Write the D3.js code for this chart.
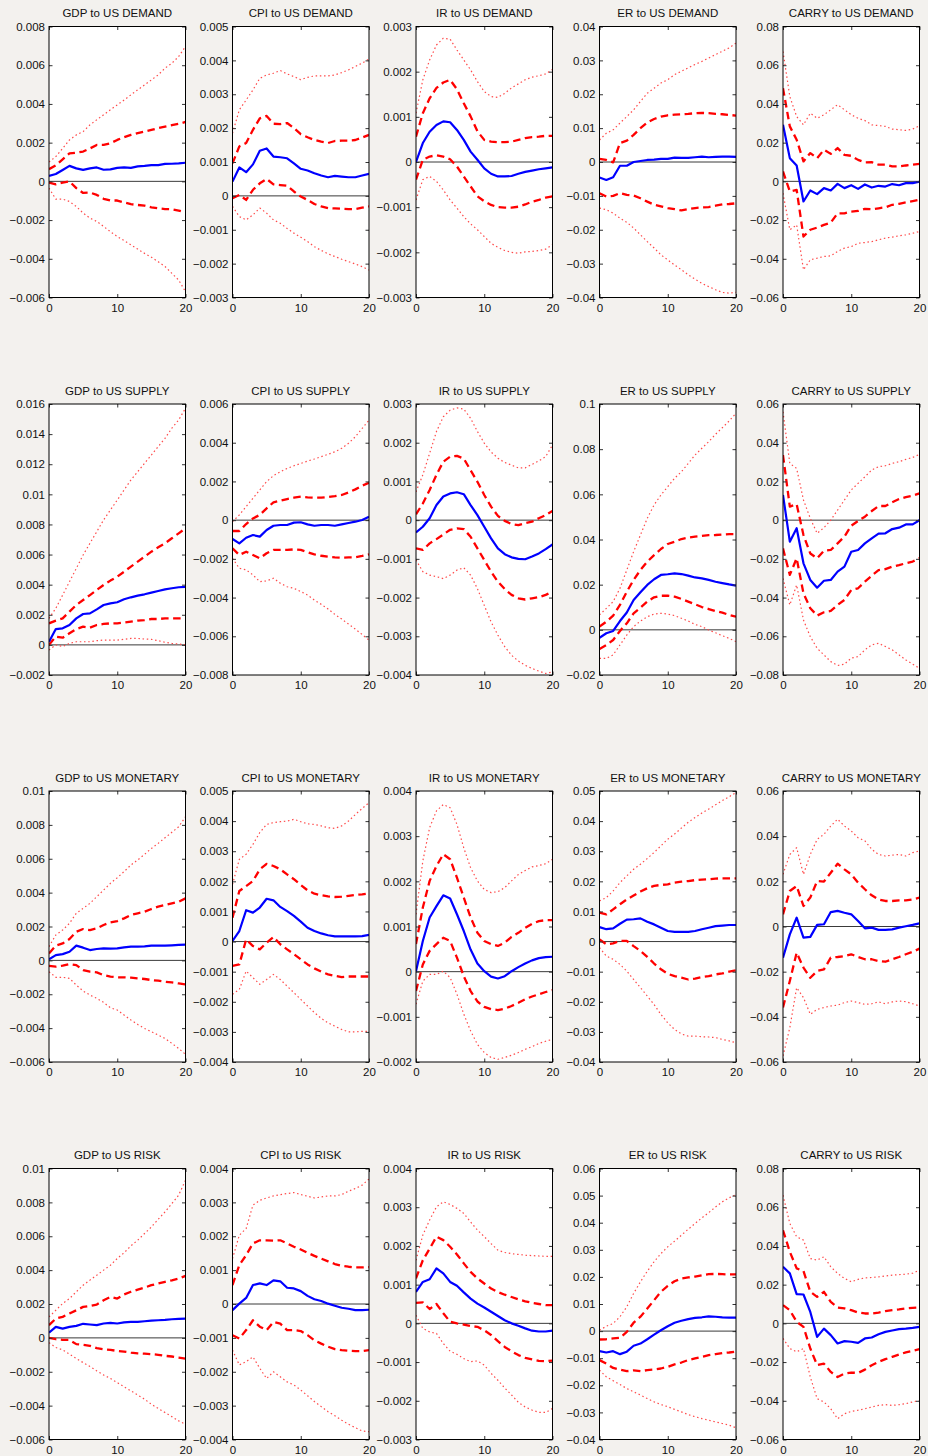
<!DOCTYPE html>
<html>
<head>
<meta charset="utf-8">
<script src="https://cdn.jsdelivr.net/npm/d3@7"></script>
<style>
  body { margin: 0; background: #f3f1ee; }
  svg { display: block; font-family: "Liberation Sans", Arial, Helvetica, sans-serif; }
</style>
</head>
<body>
<div id="chart"></div>
<script>
// impulse responses, values in units of 0.001
// each panel: [lower 90%, lower 68%, median, upper 68%, upper 90%]
var horizon = [0,1,2,3,4,5,6,7,8,9,10,11,12,13,14,15,16,17,18,19,20];
var shocks = ["DEMAND", "SUPPLY", "MONETARY", "RISK"];
var variables = ["GDP", "CPI", "IR", "ER", "CARRY"];
var xTicks = [0, 10, 20];

// y limits [min, max, tick step], units of 0.001, one per shock
var gdpLimits = [[-6,8,2],[-2,16,2],[-6,10,2],[-6,10,2]];
var cpiLimits = [[-3,5,1],[-8,6,2],[-4,5,1],[-4,4,1]];
var irLimits = [[-3,3,1],[-4,3,1],[-2,4,1],[-3,4,1]];
var erLimits = [[-40,40,10],[-20,100,20],[-40,50,10],[-40,60,10]];
var carryLimits = [[-60,80,20],[-80,60,20],[-60,60,20],[-60,80,20]];

var gdpDemand = [
  [-0.35,-0.92,-0.92,-1.04,-1.30,-1.64,-1.90,-2.07,-2.33,-2.60,-2.85,-3.06,-3.28,-3.50,-3.72,-3.92,-4.15,-4.40,-4.75,-5.10,-5.70],
  [-0.06,-0.15,-0.06,0.00,-0.35,-0.60,-0.58,-0.70,-0.90,-0.99,-0.99,-1.09,-1.18,-1.22,-1.25,-1.34,-1.39,-1.43,-1.44,-1.51,-1.61],
  [0.28,0.38,0.59,0.80,0.67,0.59,0.67,0.72,0.60,0.62,0.70,0.72,0.70,0.77,0.80,0.84,0.84,0.90,0.91,0.93,0.96],
  [0.63,0.83,1.14,1.45,1.48,1.54,1.70,1.88,1.88,1.97,2.14,2.28,2.40,2.49,2.57,2.66,2.75,2.83,2.90,2.97,3.07],
  [1.00,1.28,1.70,2.14,2.40,2.57,2.92,3.18,3.44,3.70,3.95,4.20,4.47,4.73,4.98,5.24,5.50,5.85,6.10,6.45,6.97]
];
var cpiDemand = [
  [-0.31,-0.61,-0.71,-0.56,-0.36,-0.51,-0.71,-0.81,-0.96,-1.10,-1.22,-1.35,-1.50,-1.61,-1.71,-1.79,-1.87,-1.94,-2.01,-2.09,-2.19],
  [-0.07,0.03,-0.12,0.18,0.37,0.50,0.34,0.32,0.30,0.13,-0.02,-0.12,-0.24,-0.31,-0.36,-0.37,-0.38,-0.39,-0.39,-0.35,-0.31],
  [0.42,0.84,0.70,0.93,1.33,1.40,1.16,1.14,1.11,0.96,0.80,0.75,0.67,0.60,0.55,0.59,0.57,0.55,0.55,0.60,0.65],
  [0.96,1.46,1.56,1.95,2.29,2.36,2.13,2.12,2.15,2.00,1.82,1.73,1.65,1.60,1.56,1.62,1.63,1.63,1.65,1.72,1.80],
  [1.85,2.54,2.83,3.13,3.47,3.57,3.62,3.70,3.60,3.52,3.43,3.50,3.54,3.54,3.54,3.57,3.64,3.72,3.82,3.92,4.04]
];
var irDemand = [
  [-0.84,-0.39,-0.32,-0.43,-0.62,-0.84,-1.02,-1.21,-1.37,-1.50,-1.65,-1.80,-1.89,-1.96,-2.00,-2.02,-1.99,-1.98,-1.96,-1.93,-1.83],
  [-0.39,0.05,0.12,0.15,0.12,0.06,-0.10,-0.32,-0.54,-0.76,-0.87,-0.95,-1.00,-1.01,-1.01,-0.99,-0.94,-0.88,-0.84,-0.79,-0.76],
  [0.00,0.42,0.67,0.82,0.90,0.88,0.71,0.49,0.23,0.05,-0.14,-0.26,-0.32,-0.32,-0.31,-0.26,-0.22,-0.19,-0.16,-0.14,-0.12],
  [0.56,1.08,1.41,1.64,1.76,1.82,1.61,1.30,1.01,0.68,0.49,0.45,0.44,0.44,0.45,0.49,0.53,0.55,0.56,0.58,0.58],
  [1.08,1.82,2.26,2.59,2.74,2.72,2.48,2.26,2.04,1.78,1.56,1.45,1.43,1.52,1.64,1.73,1.82,1.88,1.91,1.95,2.05]
];
var erDemand = [
  [-13.6,-14.1,-15.1,-16.6,-17.8,-19.5,-21.5,-23.5,-25.4,-27.4,-28.9,-30.4,-31.8,-33.3,-34.6,-35.8,-36.8,-37.7,-38.5,-38.7,-38.5],
  [-9.2,-10.2,-10.0,-9.2,-9.7,-9.9,-10.7,-11.7,-12.6,-13.1,-13.6,-13.9,-14.3,-13.9,-13.6,-13.4,-13.3,-12.9,-12.5,-12.4,-12.2],
  [-4.6,-5.3,-4.5,-1.1,-1.1,0.0,0.3,0.6,0.7,0.9,0.9,1.3,1.2,1.2,1.4,1.6,1.4,1.5,1.6,1.6,1.5],
  [0.9,0.6,-0.1,5.6,6.3,8.0,10.0,11.7,12.7,13.4,13.8,14.0,14.1,14.2,14.4,14.5,14.4,14.2,14.1,13.9,13.7],
  [6.5,8.5,9.5,11.5,13.4,15.4,17.9,20.3,21.8,23.3,24.3,25.8,26.8,27.8,28.8,29.7,30.7,31.7,32.7,33.7,35.1]
];
var carryDemand = [
  [-6.1,-25.0,-22.5,-45.7,-40.5,-39.7,-38.8,-38.5,-36.2,-34.5,-33.7,-32.0,-31.6,-31.1,-30.2,-29.3,-28.8,-28.1,-27.6,-26.8,-25.9],
  [5.1,-5.2,-4.4,-28.5,-25.0,-23.9,-22.5,-21.3,-16.5,-16.5,-15.6,-15.3,-14.2,-14.4,-13.9,-13.4,-12.1,-11.6,-10.9,-10.2,-9.5],
  [29.2,12.0,8.2,-10.4,-4.7,-6.6,-3.5,-4.7,-1.3,-3.5,-2.0,-3.9,-1.6,-3.2,-2.3,-2.7,-1.4,-2.0,-0.9,-0.9,-0.2],
  [48.1,28.4,21.5,10.3,14.6,12.0,16.3,14.2,17.2,13.7,13.2,11.1,9.8,9.9,8.6,8.6,7.7,7.7,8.2,8.6,9.0],
  [67.1,43.8,33.5,29.2,35.2,32.6,34.4,37.0,39.6,37.0,34.4,32.6,31.4,29.2,28.8,28.4,27.0,26.7,26.3,27.0,28.7]
];

var gdpSupply = [
  [-0.34,0.00,-0.11,0.10,0.21,0.21,0.21,0.28,0.32,0.32,0.32,0.37,0.43,0.43,0.39,0.37,0.28,0.17,0.10,0.06,0.00],
  [0.00,0.55,0.48,0.77,1.05,1.21,1.14,1.32,1.39,1.43,1.43,1.48,1.54,1.61,1.65,1.72,1.72,1.76,1.76,1.76,1.76],
  [0.21,1.05,1.10,1.32,1.76,2.05,2.09,2.36,2.65,2.76,2.83,3.03,3.16,3.27,3.36,3.47,3.58,3.69,3.76,3.83,3.85],
  [1.43,1.61,1.76,2.21,2.65,2.98,3.31,3.65,3.98,4.27,4.53,4.86,5.20,5.53,5.86,6.19,6.48,6.75,7.08,7.41,7.74],
  [1.76,2.43,3.31,4.20,5.08,5.97,6.75,7.52,8.30,8.96,9.62,10.29,10.95,11.50,12.06,12.61,13.17,13.72,14.39,14.94,15.72]
];
var cpiSupply = [
  [-1.97,-2.49,-2.57,-2.83,-3.18,-3.14,-3.00,-3.26,-3.44,-3.52,-3.69,-3.87,-4.13,-4.35,-4.59,-4.87,-5.11,-5.37,-5.63,-5.91,-6.20],
  [-1.46,-1.80,-1.63,-1.80,-1.97,-1.71,-1.54,-1.54,-1.54,-1.51,-1.54,-1.66,-1.77,-1.84,-1.89,-1.92,-1.94,-1.92,-1.92,-1.85,-1.77],
  [-0.97,-1.20,-0.91,-0.77,-0.85,-0.51,-0.29,-0.25,-0.25,-0.13,-0.11,-0.22,-0.29,-0.25,-0.25,-0.29,-0.22,-0.15,-0.08,0.01,0.18],
  [-0.56,-0.56,-0.20,0.09,0.27,0.61,0.92,1.00,1.09,1.16,1.21,1.18,1.16,1.16,1.19,1.24,1.30,1.43,1.59,1.78,1.93],
  [-0.08,0.27,0.70,1.13,1.56,1.99,2.30,2.50,2.67,2.81,2.93,3.05,3.16,3.28,3.40,3.53,3.71,3.97,4.31,4.74,5.17]
];
var irSupply = [
  [-1.03,-1.33,-1.42,-1.46,-1.51,-1.42,-1.29,-1.23,-1.42,-1.77,-2.20,-2.63,-2.97,-3.27,-3.49,-3.64,-3.75,-3.83,-3.90,-3.96,-3.92],
  [-0.73,-0.77,-0.60,-0.49,-0.37,-0.25,-0.21,-0.23,-0.43,-0.73,-1.03,-1.33,-1.59,-1.78,-1.93,-2.02,-2.05,-2.02,-1.99,-1.93,-1.85],
  [-0.32,-0.17,0.05,0.39,0.61,0.69,0.72,0.67,0.39,0.13,-0.17,-0.47,-0.73,-0.88,-0.96,-1.00,-1.01,-0.94,-0.86,-0.75,-0.63],
  [0.15,0.43,0.78,1.17,1.51,1.64,1.66,1.59,1.29,0.99,0.65,0.35,0.11,-0.02,-0.10,-0.13,-0.08,-0.04,0.05,0.13,0.24],
  [0.73,1.17,1.73,2.29,2.67,2.84,2.90,2.87,2.63,2.29,1.99,1.76,1.60,1.49,1.42,1.35,1.35,1.44,1.53,1.64,1.94]
];
var erSupply = [
  [-12.6,-12.6,-11.1,-6.7,-2.3,1.4,3.9,5.8,7.0,7.3,7.0,6.3,5.1,3.9,2.4,1.4,-0.1,-1.3,-2.6,-3.8,-5.2],
  [-8.5,-6.7,-4.5,-0.5,2.9,7.3,9.8,12.5,14.4,15.1,15.1,14.7,13.7,12.5,11.3,10.1,9.2,8.3,7.6,6.6,5.8],
  [-3.5,-1.5,-0.5,3.9,7.7,13.2,16.6,19.9,22.4,24.3,24.6,25.0,24.7,24.0,23.2,22.8,22.1,21.3,20.7,20.1,19.6],
  [1.4,3.6,6.3,11.0,16.9,22.1,26.5,30.2,33.1,35.8,38.0,39.0,40.2,40.8,41.3,41.6,41.9,42.0,42.2,42.4,42.4],
  [6.6,9.5,12.5,18.4,26.5,34.6,42.0,49.4,55.3,59.7,63.4,67.1,70.0,73.7,77.4,80.4,83.3,86.6,89.5,92.5,95.9]
];
var carrySupply = [
  [-30.1,-43.8,-33.5,-51.6,-60.2,-66.2,-69.6,-73.1,-75.1,-74.4,-71.3,-70.5,-67.0,-64.4,-63.6,-65.3,-67.0,-69.6,-72.2,-74.4,-76.5],
  [-14.6,-28.3,-19.7,-37.8,-45.5,-49.3,-47.6,-46.9,-43.8,-41.2,-36.1,-35.2,-31.8,-28.7,-25.8,-25.3,-24.0,-23.2,-22.3,-21.4,-19.7],
  [13.0,-11.1,-4.2,-22.3,-30.9,-34.9,-31.3,-30.9,-26.6,-24.0,-16.3,-15.4,-12.0,-9.4,-7.0,-6.8,-4.6,-3.9,-2.2,-2.2,0.0],
  [33.6,7.0,8.2,-7.7,-17.2,-19.7,-15.8,-15.4,-12.0,-8.5,-2.9,-0.4,1.8,4.7,7.3,7.3,9.2,10.9,11.9,12.6,13.8],
  [56.0,29.3,26.7,10.4,0.9,-6.8,-3.9,0.0,5.2,10.4,15.6,19.0,22.4,25.9,27.6,28.1,29.3,30.2,31.4,32.4,34.0]
];

var gdpMonetary = [
  [-0.67,-1.00,-1.00,-1.06,-1.46,-1.81,-2.05,-2.24,-2.48,-2.80,-2.93,-3.23,-3.52,-3.78,-4.02,-4.21,-4.41,-4.61,-4.90,-5.20,-5.55],
  [-0.33,-0.37,-0.31,-0.22,-0.28,-0.57,-0.67,-0.71,-0.87,-0.96,-1.00,-1.00,-1.02,-1.06,-1.10,-1.16,-1.20,-1.26,-1.30,-1.36,-1.42],
  [0.06,0.31,0.37,0.51,0.87,0.75,0.61,0.67,0.71,0.69,0.71,0.77,0.81,0.81,0.83,0.87,0.87,0.87,0.89,0.91,0.93],
  [0.41,0.87,1.00,1.26,1.69,1.85,1.79,1.89,2.09,2.24,2.32,2.48,2.68,2.78,2.87,3.03,3.17,3.27,3.37,3.46,3.66],
  [0.81,1.50,1.79,2.19,2.78,3.07,3.37,3.76,4.15,4.55,4.88,5.24,5.63,5.93,6.26,6.61,6.91,7.24,7.56,7.89,8.48]
];
var cpiMonetary = [
  [-1.75,-1.59,-0.98,-1.20,-1.42,-1.26,-1.09,-1.26,-1.48,-1.70,-1.92,-2.14,-2.36,-2.55,-2.70,-2.81,-2.92,-3.00,-3.00,-2.98,-2.98],
  [-0.81,-0.76,0.07,-0.15,-0.26,-0.04,0.15,-0.09,-0.26,-0.42,-0.59,-0.76,-0.89,-1.00,-1.09,-1.14,-1.18,-1.16,-1.16,-1.16,-1.16],
  [0.02,0.35,1.04,0.96,1.13,1.42,1.37,1.15,1.01,0.85,0.66,0.46,0.35,0.27,0.21,0.17,0.17,0.17,0.17,0.18,0.22],
  [0.79,1.68,1.84,2.01,2.40,2.58,2.51,2.40,2.23,2.07,1.88,1.70,1.59,1.54,1.50,1.48,1.49,1.52,1.55,1.57,1.60],
  [1.90,2.73,2.90,3.23,3.62,3.89,3.95,3.98,4.00,4.06,3.98,3.91,3.89,3.84,3.78,3.76,3.84,4.00,4.22,4.42,4.61]
];
var irMonetary = [
  [-0.72,-0.21,-0.06,-0.06,0.01,-0.13,-0.50,-0.94,-1.31,-1.61,-1.79,-1.90,-1.94,-1.90,-1.85,-1.79,-1.72,-1.66,-1.59,-1.54,-1.50],
  [-0.43,0.16,0.46,0.61,0.75,0.68,0.31,-0.10,-0.43,-0.66,-0.78,-0.83,-0.85,-0.82,-0.76,-0.69,-0.61,-0.55,-0.50,-0.45,-0.41],
  [0.01,0.68,1.20,1.45,1.69,1.62,1.27,0.90,0.49,0.18,0.01,-0.11,-0.15,-0.10,0.01,0.10,0.18,0.25,0.30,0.32,0.33],
  [0.61,1.42,2.01,2.34,2.60,2.49,2.08,1.64,1.20,0.86,0.68,0.61,0.57,0.64,0.77,0.86,0.97,1.06,1.12,1.14,1.14],
  [1.27,2.45,3.19,3.56,3.70,3.63,3.26,2.74,2.30,2.01,1.82,1.75,1.77,1.86,2.01,2.15,2.24,2.32,2.35,2.39,2.49]
];
var erMonetary = [
  [-2.0,-4.8,-5.9,-7.6,-9.8,-12.6,-15.3,-18.1,-20.9,-24.2,-27.0,-29.2,-30.7,-31.4,-31.4,-31.6,-31.7,-31.9,-32.5,-33.0,-33.6],
  [0.7,-0.9,-0.6,0.2,0.2,-1.5,-3.1,-5.1,-7.3,-9.2,-10.7,-11.5,-12.0,-12.6,-12.3,-11.8,-11.5,-10.9,-10.6,-10.0,-9.5],
  [4.8,4.1,4.4,5.9,7.3,7.4,7.7,6.6,5.7,4.6,3.5,3.2,3.2,3.2,3.5,4.1,4.6,5.1,5.3,5.5,5.5],
  [9.6,9.0,10.7,12.4,14.0,15.3,16.6,17.7,18.5,18.8,19.0,19.6,19.9,20.1,20.4,20.6,20.7,20.9,21.0,21.0,21.0],
  [13.5,14.6,16.8,19.6,21.8,24.0,25.7,27.6,29.6,31.8,34.0,35.7,37.7,39.6,41.2,42.7,44.0,45.4,46.8,48.1,49.5]
];
var carryMonetary = [
  [-57.3,-44.8,-27.1,-31.5,-38.9,-36.7,-35.9,-35.2,-34.8,-33.7,-33.0,-33.7,-34.5,-34.2,-33.4,-34.2,-33.4,-33.0,-33.3,-34.2,-35.2],
  [-35.9,-24.1,-11.6,-18.2,-22.7,-19.7,-19.0,-13.8,-13.5,-13.1,-12.3,-13.5,-14.5,-14.5,-15.3,-15.6,-14.5,-13.5,-12.3,-11.2,-9.8],
  [-13.8,-3.5,3.9,-4.9,-4.6,0.7,1.0,6.4,6.9,6.1,5.4,2.4,-0.8,-0.5,-1.5,-1.5,-1.3,-0.5,0.1,0.7,1.4],
  [5.4,15.7,17.9,9.1,12.8,20.1,19.9,23.8,27.8,25.3,23.1,19.4,16.5,13.8,12.0,11.3,11.3,11.6,11.6,12.0,12.8],
  [23.1,31.9,34.9,23.1,31.9,38.6,40.8,44.5,47.5,44.5,42.3,39.3,37.9,34.2,31.9,31.2,31.6,31.9,31.2,32.7,33.4]
];

var gdpRisk = [
  [-0.28,-0.57,-0.71,-0.96,-1.22,-1.46,-1.69,-1.95,-2.19,-2.40,-2.64,-2.89,-3.13,-3.37,-3.62,-3.92,-4.17,-4.41,-4.65,-4.90,-5.10],
  [0.00,-0.08,-0.12,-0.12,-0.37,-0.41,-0.47,-0.61,-0.67,-0.71,-0.77,-0.81,-0.87,-0.91,-0.93,-0.96,-1.00,-1.06,-1.10,-1.16,-1.22],
  [0.31,0.65,0.55,0.65,0.71,0.83,0.79,0.75,0.85,0.89,0.85,0.91,0.94,0.94,0.98,1.02,1.04,1.06,1.10,1.12,1.14],
  [0.75,1.14,1.24,1.44,1.63,1.83,1.89,1.97,2.22,2.42,2.32,2.56,2.72,2.85,2.97,3.11,3.21,3.31,3.40,3.50,3.66],
  [1.24,1.63,2.03,2.32,2.72,3.11,3.41,3.70,4.00,4.29,4.69,5.02,5.43,5.77,6.16,6.55,7.00,7.44,7.93,8.43,9.31]
];
var cpiRisk = [
  [-1.36,-1.80,-1.70,-1.56,-1.90,-2.20,-2.00,-2.15,-2.30,-2.39,-2.54,-2.71,-2.88,-3.03,-3.18,-3.30,-3.43,-3.55,-3.65,-3.75,-3.77],
  [-0.92,-1.02,-0.77,-0.48,-0.67,-0.77,-0.53,-0.58,-0.77,-0.77,-0.80,-0.92,-1.07,-1.17,-1.26,-1.33,-1.36,-1.38,-1.39,-1.39,-1.36],
  [-0.18,0.01,0.18,0.56,0.61,0.56,0.70,0.67,0.48,0.46,0.38,0.24,0.14,0.09,0.01,-0.05,-0.11,-0.14,-0.18,-0.18,-0.17],
  [0.56,1.15,1.44,1.79,1.88,1.88,1.87,1.88,1.79,1.69,1.61,1.51,1.42,1.34,1.26,1.18,1.13,1.10,1.08,1.08,1.09],
  [1.34,2.03,2.23,2.92,3.06,3.13,3.19,3.23,3.26,3.29,3.23,3.18,3.13,3.16,3.19,3.19,3.23,3.33,3.41,3.51,3.69]
];
var irRisk = [
  [0.21,-0.13,-0.22,-0.26,-0.52,-0.72,-0.80,-0.91,-0.99,-0.97,-1.08,-1.29,-1.47,-1.67,-1.85,-2.04,-2.16,-2.24,-2.30,-2.30,-2.20],
  [0.53,0.54,0.37,0.50,0.26,0.04,0.00,-0.03,-0.07,-0.09,-0.18,-0.30,-0.46,-0.61,-0.72,-0.82,-0.89,-0.93,-0.97,-0.98,-0.96],
  [0.81,1.07,1.14,1.42,1.29,1.07,0.97,0.80,0.64,0.51,0.41,0.30,0.19,0.08,0.00,-0.06,-0.13,-0.19,-0.21,-0.21,-0.19],
  [1.16,1.63,1.93,2.24,2.15,1.98,1.78,1.55,1.33,1.16,1.03,0.90,0.81,0.74,0.68,0.62,0.57,0.53,0.50,0.47,0.47],
  [1.63,2.28,2.67,3.01,3.14,3.07,2.97,2.84,2.62,2.41,2.24,2.06,1.89,1.83,1.80,1.78,1.76,1.75,1.74,1.73,1.73]
];
var erRisk = [
  [-14.4,-16.9,-18.3,-19.7,-21.2,-22.4,-23.6,-24.9,-26.1,-27.1,-27.9,-28.9,-29.8,-30.8,-31.6,-32.3,-32.9,-33.5,-34.1,-34.7,-35.7],
  [-10.7,-12.0,-13.6,-14.2,-14.8,-14.5,-14.8,-14.4,-14.2,-13.8,-13.2,-12.3,-11.6,-10.7,-10.1,-9.5,-8.9,-8.5,-8.1,-7.9,-7.6],
  [-7.4,-7.9,-7.4,-8.5,-7.6,-5.4,-4.6,-3.0,-1.3,0.3,1.8,3.1,3.8,4.4,4.9,5.1,5.4,5.3,5.1,5.0,5.0],
  [-3.1,-3.0,-2.7,-2.5,-0.3,3.1,5.3,8.3,11.4,14.5,16.7,18.4,19.4,19.8,20.1,20.6,21.0,21.1,21.0,20.9,20.9],
  [0.3,1.8,2.8,5.3,9.0,13.9,18.2,22.1,25.6,28.6,31.1,33.2,35.4,37.6,39.7,41.8,43.7,45.8,47.7,49.2,50.4]
];
var carryRisk = [
  [-7.8,-13.0,-14.7,-13.0,-27.7,-38.9,-40.6,-44.1,-49.3,-46.7,-45.5,-44.9,-44.1,-43.2,-42.4,-42.0,-42.4,-42.0,-41.5,-40.6,-39.8],
  [9.4,6.8,0.8,-1.8,-13.0,-21.6,-20.8,-25.1,-27.7,-26.0,-25.4,-25.6,-23.9,-21.6,-19.9,-18.5,-17.3,-16.1,-15.0,-14.2,-13.3],
  [29.2,25.8,15.1,14.9,5.9,-7.0,-2.7,-6.1,-10.4,-9.2,-9.5,-10.1,-7.8,-7.3,-5.6,-4.4,-3.7,-3.0,-2.7,-2.3,-1.8],
  [48.1,37.0,28.4,27.0,16.3,13.7,16.3,11.1,8.2,7.7,6.8,5.6,5.1,5.1,5.6,6.3,6.8,7.2,7.7,8.0,8.2],
  [66.2,51.6,44.7,43.0,33.5,32.7,34.4,29.2,25.8,23.2,21.5,22.7,23.5,23.7,24.0,24.5,24.9,25.2,25.4,25.9,27.5]
];

// grid: rows = shocks, columns = variables
var grid = [
  [gdpDemand, cpiDemand, irDemand, erDemand, carryDemand],
  [gdpSupply, cpiSupply, irSupply, erSupply, carrySupply],
  [gdpMonetary, cpiMonetary, irMonetary, erMonetary, carryMonetary],
  [gdpRisk, cpiRisk, irRisk, erRisk, carryRisk]
];
var limits = [gdpLimits, cpiLimits, irLimits, erLimits, carryLimits];

var width = 928,
    height = 1456,
    colLeft = [49, 232.5, 416, 599.5, 783],
    rowTop = [26.5, 404, 791, 1168.5],
    plotW = 136.5,
    plotH = 271,
    fontSize = 11.5,
    tickLen = 3.5;

var lineStyles = [
  {stroke: "#ff4a4a", width: 1.2, dash: "1.5,2.7"},
  {stroke: "#ff0000", width: 2.3, dash: "7.5,4.5"},
  {stroke: "#0000ff", width: 2.2, dash: null},
  {stroke: "#ff0000", width: 2.3, dash: "7.5,4.5"},
  {stroke: "#ff4a4a", width: 1.2, dash: "1.5,2.7"}
];
var drawOrder = [0, 4, 1, 3, 2];
var fmt = d3.format("~g");

var svg = d3.select("#chart")
  .append("svg")
  .attr("width", width)
  .attr("height", height);

svg.append("rect")
  .attr("width", width)
  .attr("height", height)
  .attr("fill", "#f3f1ee");

shocks.forEach(function(shock, r) {
  variables.forEach(function(variable, c) {
    var series = grid[r][c],
        lim = limits[c][r];

    var x = d3.scaleLinear().domain([0, 20]).range([0, plotW]);
    var y = d3.scaleLinear().domain([lim[0] / 1000, lim[1] / 1000]).range([plotH, 0]);
    var yTicks = d3.range(lim[0], lim[1] + lim[2] / 2, lim[2]).map(function(v) { return v / 1000; });

    var g = svg.append("g")
      .attr("transform", "translate(" + colLeft[c] + "," + rowTop[r] + ")");

    g.append("rect")
      .attr("width", plotW)
      .attr("height", plotH)
      .attr("fill", "#fff");

    var clipId = "clip-" + r + "-" + c;
    g.append("clipPath").attr("id", clipId)
      .append("rect").attr("width", plotW).attr("height", plotH);

    var plot = g.append("g").attr("clip-path", "url(#" + clipId + ")");

    // zero line
    plot.append("line")
      .attr("x1", x(0)).attr("x2", x(20))
      .attr("y1", y(0)).attr("y2", y(0))
      .attr("stroke", "#3a3a3a")
      .attr("stroke-width", 1);

    var line = d3.line()
      .x(function(d, i) { return x(horizon[i]); })
      .y(function(d) { return y(d / 1000); });

    drawOrder.forEach(function(k) {
      var st = lineStyles[k];
      plot.append("path")
        .datum(series[k])
        .attr("fill", "none")
        .attr("stroke", st.stroke)
        .attr("stroke-width", st.width)
        .attr("stroke-dasharray", st.dash)
        .attr("stroke-linejoin", "round")
        .attr("d", line);
    });

    // axes with inward ticks, MATLAB style
    var axes = [
      {ax: d3.axisLeft(y).tickValues(yTicks).tickFormat(fmt), t: "translate(0,0)"},
      {ax: d3.axisRight(y).tickValues(yTicks).tickFormat(""), t: "translate(" + plotW + ",0)"},
      {ax: d3.axisBottom(x).tickValues(xTicks).tickFormat(d3.format("d")), t: "translate(0," + plotH + ")"},
      {ax: d3.axisTop(x).tickValues(xTicks).tickFormat(""), t: "translate(0,0)"}
    ];
    axes.forEach(function(a, i) {
      var ag = g.append("g")
        .attr("transform", a.t)
        .call(a.ax.tickSizeInner(-tickLen).tickSizeOuter(0).tickPadding(i == 2 ? 6 : 4));
      ag.select(".domain").remove();
      ag.selectAll("line").attr("stroke", "#333");
      ag.selectAll("text")
        .attr("fill", "#111")
        .style("font-size", fontSize + "px")
        .style("font-family", "'Liberation Sans', Arial, sans-serif");
    });

    g.append("rect")
      .attr("width", plotW)
      .attr("height", plotH)
      .attr("fill", "none")
      .attr("stroke", "#000")
      .attr("stroke-width", 1);

    g.append("text")
      .attr("x", plotW / 2)
      .attr("y", -9.5)
      .attr("text-anchor", "middle")
      .attr("fill", "#111")
      .style("font-size", fontSize + "px")
      .text(variable + " to US " + shock);
  });
});
</script>
</body>
</html>
